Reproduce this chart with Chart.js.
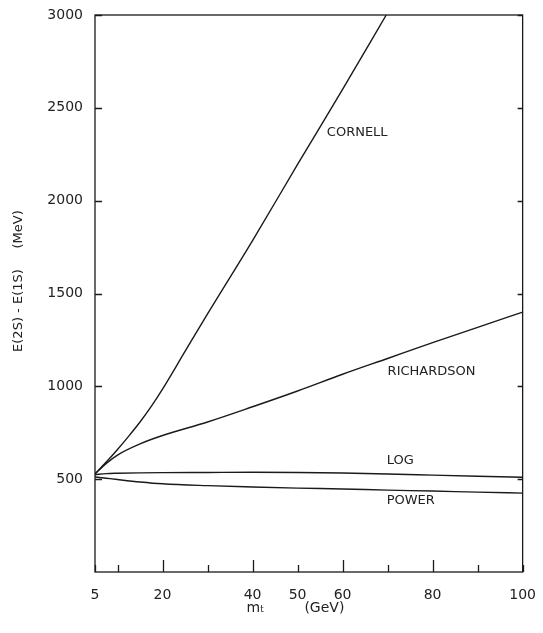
<!DOCTYPE html>
<html>
<head>
<meta charset="utf-8">
<script src="https://cdn.jsdelivr.net/npm/chart.js@4/dist/chart.umd.min.js"></script>
<style>
    html, body { margin: 0; padding: 0; background: #fff; }
    #wrap { width: 543px; height: 633px; }
</style>
</head>
<body>
<div id="wrap"><canvas id="the-chart"></canvas></div>
<script>
// top-quark mass grid (GeV)
const mt = [5, 7.5, 10, 15, 20, 30, 40, 50, 60, 70, 80, 90, 100];
const mtCornell = [5, 7.5, 10, 12.5, 15, 17.5, 20, 25, 30, 40, 50, 60, 69.7];

// E(2S) - E(1S) in MeV
const cornell = [528, 592, 660, 732, 808, 892, 985, 1188, 1390, 1785, 2195, 2600, 3000];
const richardson = [528, 585, 630, 690, 735, 808, 890, 975, 1065, 1150, 1235, 1318, 1400];
const logPot = [524, 530, 532, 534, 535, 536, 537, 536, 533, 528, 522, 516, 510];
const power = [512, 505, 498, 485, 475, 465, 458, 452, 447, 441, 436, 430, 425];

const xTicks = [5, 10, 20, 30, 40, 50, 60, 70, 80, 90, 100];
const xLabelled = [5, 20, 40, 50, 60, 80, 100];
const yTicks = [500, 1000, 1500, 2000, 2500, 3000];

// curve names, placed at data coordinates
const curveNames = ['CORNELL', 'RICHARDSON', 'LOG', 'POWER'];
const nameX = [56.5, 70, 69.8, 69.8];
const nameY = [2369, 1077, 600, 385];

const ink = '#1a1a1a';
const font = "'DejaVu Sans', sans-serif";

function toPoints(xs, ys) {
    return xs.map((x, i) => ({ x: x, y: ys[i] }));
}

function lineSet(label, xs, ys) {
    return {
        label: label,
        data: toPoints(xs, ys),
        borderColor: ink,
        borderWidth: 1.4,
        pointRadius: 0,
        fill: false,
        cubicInterpolationMode: 'monotone'
    };
}

// frame, inward ticks and curve names
const framePlugin = {
    id: 'frame',
    afterDatasetsDraw(chart) {
        const ctx = chart.ctx;
        const area = chart.chartArea;
        const xs = chart.scales.x;
        const ys = chart.scales.y;
        ctx.save();
        ctx.strokeStyle = ink;
        ctx.lineWidth = 1.3;
        ctx.strokeRect(area.left, area.top, area.right - area.left, area.bottom - area.top);

        ctx.beginPath();
        xTicks.forEach(v => {
            const px = Math.round(xs.getPixelForValue(v)) + 0.5;
            const len = (v % 20 === 0 && v !== 100) ? 12 : 7;
            ctx.moveTo(px, area.bottom);
            ctx.lineTo(px, area.bottom - len);
        });
        yTicks.forEach(v => {
            const py = Math.round(ys.getPixelForValue(v)) + 0.5;
            ctx.moveTo(area.left, py);
            ctx.lineTo(area.left + 7, py);
            ctx.moveTo(area.right, py);
            ctx.lineTo(area.right - 5, py);
        });
        ctx.stroke();

        ctx.fillStyle = '#222';
        ctx.font = '13px ' + font;
        ctx.textAlign = 'left';
        ctx.textBaseline = 'middle';
        curveNames.forEach((name, i) => {
            ctx.fillText(name, xs.getPixelForValue(nameX[i]), ys.getPixelForValue(nameY[i]));
        });
        ctx.restore();
    }
};

new Chart(document.getElementById('the-chart'), {
    type: 'line',
    data: {
        datasets: [
            lineSet('Cornell', mtCornell, cornell),
            lineSet('Richardson', mt, richardson),
            lineSet('Log', mt, logPot),
            lineSet('Power', mt, power)
        ]
    },
    options: {
        responsive: true,
        maintainAspectRatio: false,
        animation: false,
        layout: { padding: { top: 15, right: 14, left: 0, bottom: 0 } },
        plugins: {
            legend: { display: false },
            tooltip: { enabled: false }
        },
        scales: {
            x: {
                type: 'linear',
                min: 5,
                max: 100,
                afterBuildTicks(scale) {
                    scale.ticks = xTicks.map(v => ({ value: v }));
                },
                afterFit(scale) { scale.height = 61; },
                grid: { display: false },
                border: { display: false },
                ticks: {
                    autoSkip: false,
                    maxRotation: 0,
                    padding: 7,
                    color: '#222',
                    font: { family: font, size: 14 },
                    callback: v => xLabelled.includes(v) ? String(v) : ''
                },
                title: {
                    display: true,
                    text: 'm\u209C         (GeV)      ',
                    color: '#222',
                    font: { family: font, size: 14 },
                    padding: { top: 0, bottom: 16 }
                }
            },
            y: {
                type: 'linear',
                min: 0,
                max: 3000,
                afterBuildTicks(scale) {
                    scale.ticks = yTicks.map(v => ({ value: v }));
                },
                afterFit(scale) { scale.width = 95; },
                grid: { display: false },
                border: { display: false },
                ticks: {
                    padding: 4,
                    color: '#222',
                    font: { family: font, size: 14 },
                    callback: v => String(v)
                },
                title: {
                    display: true,
                    text: '      E(2S) - E(1S)     (MeV)',
                    color: '#222',
                    font: { family: font, size: 13 },
                    padding: { top: 11, bottom: 0 }
                }
            }
        }
    },
    plugins: [framePlugin]
});
</script>
</body>
</html>
